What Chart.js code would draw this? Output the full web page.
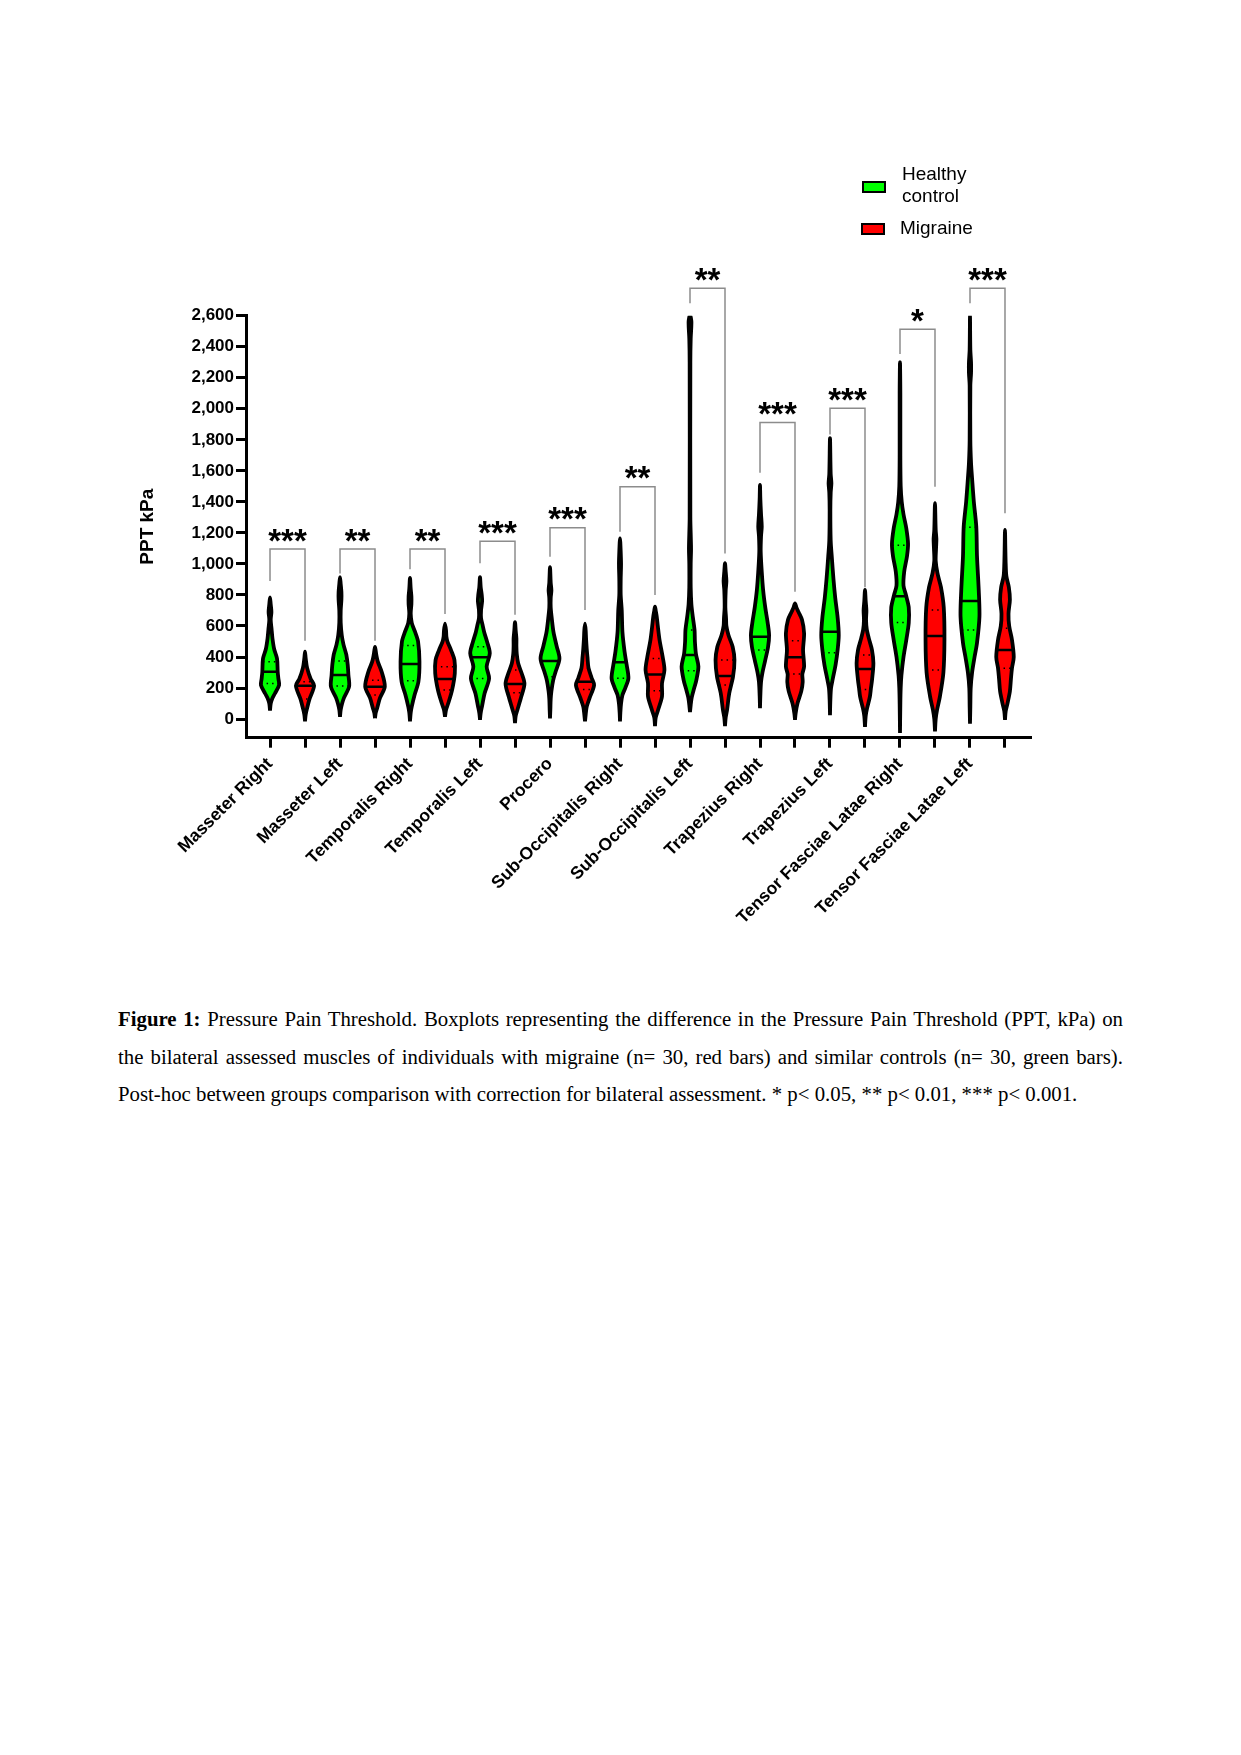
<!DOCTYPE html>
<html>
<head>
<meta charset="utf-8">
<script src="https://cdn.jsdelivr.net/npm/chart.js@4.4.1/dist/chart.umd.min.js"></script>
<style>
  html, body { margin: 0; padding: 0; background: #fff; }
  body { width: 1241px; height: 1755px; position: relative; overflow: hidden; font-family: 'Liberation Sans', Arial, sans-serif; }
  #chart { position: absolute; left: 0; top: 0; }
  .legend { position: absolute; font-size: 19px; line-height: 22px; color: #000; }
  .box { position: absolute; width: 24px; height: 12px; border: 2px solid #000; box-sizing: border-box; }
  .caption { position: absolute; left: 118px; top: 1000px; width: 1005px; font-family: 'Liberation Serif', 'Times New Roman', serif; font-size: 20.8px; line-height: 37.5px; color: #000; }
  .caption div { text-align: justify; text-align-last: justify; }
  .caption div.last { text-align-last: left; }
</style>
</head>
<body>
<canvas id="chart" width="1241" height="960"></canvas>

<div class="box" style="left:862px; top:181px; background:#00ff00;"></div>
<div class="legend" style="left:902px; top:163px;">Healthy<br>control</div>
<div class="box" style="left:861px; top:223px; background:#ff0000;"></div>
<div class="legend" style="left:900px; top:217px;">Migraine</div>

<div class="caption">
  <div><b>Figure 1:</b> Pressure Pain Threshold. Boxplots representing the difference in the Pressure Pain Threshold (PPT, kPa) on</div>
  <div>the bilateral assessed muscles of individuals with migraine (n= 30, red bars) and similar controls (n= 30, green bars).</div>
  <div class="last">Post-hoc between groups comparison with correction for bilateral assessment. * p&lt; 0.05, ** p&lt; 0.01, *** p&lt; 0.001.</div>
</div>

<script>
// ── Data ─────────────────────────────────────────────────────────
const muscles = ['Masseter Right', 'Masseter Left', 'Temporalis Right', 'Temporalis Left', 'Procero',
  'Sub-Occipitalis Right', 'Sub-Occipitalis Left', 'Trapezius Right', 'Trapezius Left',
  'Tensor Fasciae Latae Right', 'Tensor Fasciae Latae Left'];
const yTicks = [0, 200, 400, 600, 800, 1000, 1200, 1400, 1600, 1800, 2000, 2200, 2400, 2600];

const healthyMedian = [305, 284, 355, 398, 374, 366, 413, 531, 563, 791, 761];
const healthyQ1 = [230, 213, 247, 262, 273, 263, 312, 445, 428, 623, 574];
const healthyQ3 = [370, 374, 475, 466, null, null, 574, 1236, null, 1120, 1236];
const migraineMedian = [215, 209, 258, 226, 241, 288, 277, 398, 323, 535, 445];
const migraineQ1 = [130, 155, 187, 170, 191, 183, 219, 290, 191, 316, 327];
const migraineQ3 = [240, 250, 338, 316, 327, 391, 381, 505, 413, 703, 585];

// violin outlines: [kPa, half width in category units], bottom to top
const healthyShape = [
  [[55,0],[100,0.02],[130,0.06],[165,0.14],[220,0.26],[260,0.24],[305,0.22],[390,0.2],[450,0.12],[520,0.07],[580,0.045],[640,0.02],[690,0.04],[740,0.02],[785,0]],
  [[15,0],[60,0.02],[100,0.06],[135,0.11],[210,0.26],[285,0.24],[350,0.22],[415,0.18],[480,0.1],[540,0.05],[620,0.02],[700,0.02],[770,0.04],[820,0.04],[870,0.02],[915,0]],
  [[-15,0],[40,0.02],[80,0.05],[155,0.13],[240,0.24],[370,0.27],[500,0.23],[565,0.14],[620,0.05],[680,0.02],[740,0.04],[790,0.04],[840,0.02],[910,0]],
  [[-5,0],[40,0.02],[85,0.06],[165,0.13],[262,0.26],[338,0.19],[425,0.28],[500,0.2],[560,0.12],[610,0.07],[650,0.03],[700,0.03],[760,0.06],[800,0.05],[850,0.02],[915,0]],
  [[5,0],[60,0.01],[130,0.02],[180,0.04],[250,0.09],[305,0.16],[390,0.27],[470,0.19],[560,0.1],[650,0.05],[720,0.02],[780,0.02],[830,0.04],[880,0.02],[980,0]],
  [[-15,0],[40,0.01],[100,0.03],[155,0.07],[200,0.15],[262,0.24],[350,0.19],[435,0.13],[560,0.07],[700,0.05],[800,0.02],[900,0.02],[1000,0.03],[1080,0.02],[1165,0]],
  [[45,0],[90,0.02],[140,0.05],[200,0.12],[250,0.18],[338,0.24],[420,0.17],[500,0.14],[575,0.13],[660,0.08],[740,0.04],[850,0.02],[1000,0.02],[1100,0.03],[1300,0.01],[2300,0.01],[2450,0.02],[2560,0.04],[2605,0]],
  [[70,0],[150,0.01],[240,0.03],[300,0.07],[380,0.15],[465,0.23],[540,0.26],[620,0.22],[720,0.15],[830,0.09],[950,0.05],[1080,0.02],[1180,0.03],[1240,0.05],[1320,0.03],[1420,0.01],[1510,0]],
  [[25,0],[120,0.01],[200,0.03],[260,0.08],[350,0.16],[450,0.22],[540,0.25],[650,0.22],[780,0.15],[900,0.1],[1050,0.05],[1150,0.02],[1350,0.01],[1460,0.02],[1520,0.04],[1580,0.02],[1810,0]],
  [[-90,0],[100,0.01],[200,0.02],[280,0.04],[400,0.1],[510,0.18],[620,0.25],[720,0.25],[800,0.17],[860,0.1],[950,0.12],[1050,0.2],[1130,0.23],[1230,0.18],[1320,0.1],[1400,0.05],[1500,0.02],[1700,0.01],[2100,0.01],[2300,0]],
  [[-30,0],[80,0.01],[200,0.02],[300,0.06],[400,0.13],[490,0.2],[660,0.27],[830,0.25],[1050,0.2],[1240,0.18],[1400,0.11],[1550,0.06],[1650,0.03],[1800,0.01],[2150,0.01],[2230,0.03],[2300,0.03],[2380,0.01],[2605,0]]
];
const migraineShape = [
  [[-15,0],[30,0.02],[70,0.06],[130,0.13],[215,0.26],[260,0.16],[330,0.06],[390,0.02],[435,0]],
  [[5,0],[40,0.02],[70,0.06],[135,0.14],[210,0.28],[305,0.19],[370,0.08],[410,0.04],[440,0.02],[465,0]],
  [[15,0],[60,0.03],[100,0.09],[185,0.2],[295,0.28],[380,0.27],[440,0.18],[500,0.07],[530,0.04],[570,0.03],[615,0]],
  [[-25,0],[20,0.02],[60,0.07],[145,0.18],[228,0.27],[295,0.19],[360,0.09],[420,0.05],[470,0.04],[520,0.04],[570,0.02],[625,0]],
  [[-15,0],[30,0.02],[80,0.05],[135,0.13],[220,0.26],[265,0.19],[330,0.1],[400,0.07],[450,0.05],[520,0.03],[570,0.02],[615,0]],
  [[-45,0],[10,0.02],[60,0.09],[145,0.2],[230,0.2],[316,0.27],[400,0.22],[510,0.13],[600,0.08],[660,0.05],[700,0.02],[725,0]],
  [[-45,0],[10,0.02],[60,0.06],[165,0.12],[275,0.23],[380,0.27],[465,0.22],[540,0.1],[600,0.04],[650,0.03],[720,0.01],[830,0.02],[890,0.04],[950,0.02],[1005,0]],
  [[-5,0],[40,0.02],[100,0.07],[180,0.18],[240,0.22],[290,0.21],[338,0.26],[445,0.23],[553,0.26],[640,0.2],[690,0.1],[720,0.04],[746,0]],
  [[-50,0],[20,0.02],[70,0.06],[145,0.14],[200,0.17],[250,0.2],[360,0.24],[445,0.2],[520,0.11],[580,0.05],[640,0.03],[700,0.04],[760,0.02],[832,0]],
  [[-80,0],[0,0.02],[60,0.06],[145,0.14],[300,0.24],[510,0.27],[720,0.25],[850,0.17],[940,0.07],[1020,0.02],[1100,0.03],[1160,0.04],[1220,0.02],[1391,0]],
  [[-5,0],[50,0.02],[100,0.07],[180,0.14],[260,0.17],[330,0.2],[400,0.25],[510,0.2],[600,0.12],[680,0.1],[770,0.14],[850,0.11],[920,0.04],[1000,0.02],[1100,0.01],[1220,0]]
];

// significance brackets (kPa)
const bracketTop = [1096, 1096, 1096, 1146, 1233, 1498, 2777, 1911, 2003, 2512, 2777];
const bracketLeftEnd = [890, 939, 965, 1005, 1046, 1208, 2680, 1588, 1835, 2353, 2680];
const bracketRightEnd = [505, 505, 677, 672, 703, 800, 1068, 821, 849, 1498, 1326];
const bracketStars = ['***', '**', '**', '***', '***', '**', '**', '***', '***', '*', '***'];

// ── Build datasets ───────────────────────────────────────────────
const GREEN = '#00ff00';
const RED = '#ff0000';
const FONT = "'Liberation Sans', Arial, sans-serif";

function widthAt(shape, v) {
  for (let k = 1; k < shape.length; k++) {
    const [v0, w0] = shape[k - 1];
    const [v1, w1] = shape[k];
    if (v >= v0 && v <= v1) return w0 + (w1 - w0) * (v - v0) / (v1 - v0);
  }
  return 0;
}

function violinPoints(shape, pos) {
  const right = shape.map(([v, w]) => ({ x: pos + w, y: v }));
  const left = shape.slice(0, -1).reverse().map(([v, w]) => ({ x: pos - w, y: v }));
  return right.concat(left);
}

function crossLine(shape, pos, v, dashed) {
  const w = widthAt(shape, v);
  return {
    data: [{ x: pos - w, y: v }, { x: pos + w, y: v }],
    borderColor: '#000',
    borderWidth: dashed ? 1.5 : 2.5,
    borderDash: dashed ? [1.5, 4] : [],
    pointRadius: 0,
    fill: false,
    order: 1
  };
}

const datasets = [];
muscles.forEach((m, g) => {
  const groups = [
    { shape: healthyShape[g], med: healthyMedian[g], q1: healthyQ1[g], q3: healthyQ3[g], color: GREEN, pos: 2 * g },
    { shape: migraineShape[g], med: migraineMedian[g], q1: migraineQ1[g], q3: migraineQ3[g], color: RED, pos: 2 * g + 1 }
  ];
  groups.forEach(gr => {
    datasets.push({
      data: violinPoints(gr.shape, gr.pos),
      fill: 'shape',
      backgroundColor: gr.color,
      borderColor: '#000',
      borderWidth: 3.8,
      borderJoinStyle: 'round',
      tension: 0.3,
      pointRadius: 0,
      order: 2
    });
    datasets.push(crossLine(gr.shape, gr.pos, gr.med, false));
    if (gr.q1 != null) datasets.push(crossLine(gr.shape, gr.pos, gr.q1, true));
    if (gr.q3 != null) datasets.push(crossLine(gr.shape, gr.pos, gr.q3, true));
  });

  datasets.push({
    data: [
      { x: 2 * g, y: bracketLeftEnd[g] }, { x: 2 * g, y: bracketTop[g] },
      { x: 2 * g + 1, y: bracketTop[g] }, { x: 2 * g + 1, y: bracketRightEnd[g] }
    ],
    borderColor: '#8c8c8c',
    borderWidth: 1.5,
    pointRadius: 0,
    tension: 0,
    fill: false,
    clip: false,
    order: 0
  });
});

// ── Stars above brackets ─────────────────────────────────────────
const starPlugin = {
  id: 'stars',
  afterDatasetsDraw(chart) {
    const { ctx, scales: { x, y } } = chart;
    const size = 33;
    ctx.save();
    ctx.font = `bold ${size}px ${FONT}`;
    ctx.textAlign = 'center';
    ctx.textBaseline = 'alphabetic';
    ctx.fillStyle = '#000';
    bracketStars.forEach((s, g) => {
      const px = x.getPixelForValue(2 * g + 0.5);
      const py = y.getPixelForValue(bracketTop[g]) - 16;
      ctx.fillText(s, px, py + 0.56 * size);
    });
    ctx.restore();
  }
};

const tickFont = { family: FONT, size: 17.5, weight: 'bold' };

new Chart(document.getElementById('chart'), {
  type: 'line',
  data: { datasets },
  plugins: [starPlugin],
  options: {
    responsive: false,
    animation: false,
    events: [],
    layout: { padding: { top: 315.7, left: 132, right: 210, bottom: 0 } },
    plugins: { legend: { display: false }, tooltip: { enabled: false } },
    scales: {
      x: {
        type: 'linear',
        min: -0.686,
        max: 21.743,
        afterBuildTicks: axis => { axis.ticks = muscles.flatMap((m, g) => [{ value: 2 * g }, { value: 2 * g + 1 }]); },
        afterFit: axis => { axis.height = 222.3; },
        grid: { drawOnChartArea: false, tickLength: 10, tickWidth: 3, tickColor: '#000' },
        border: { width: 3, color: '#000' },
        ticks: {
          autoSkip: false,
          minRotation: 45,
          maxRotation: 45,
          padding: 6,
          color: '#000',
          font: tickFont,
          callback: (v, i) => (i % 2 === 0 ? muscles[i / 2] : '')
        }
      },
      y: {
        min: -120,
        max: 2600,
        afterBuildTicks: axis => { axis.ticks = yTicks.map(v => ({ value: v })); },
        afterFit: axis => { axis.width = 114; },
        grid: { drawOnChartArea: false, tickLength: 10, tickWidth: 3, tickColor: '#000' },
        border: { width: 3, color: '#000' },
        ticks: {
          padding: 2,
          color: '#000',
          font: { family: FONT, size: 17, weight: 'bold' },
          callback: v => v.toLocaleString('en-US')
        },
        title: {
          display: true,
          text: 'PPT kPa',
          color: '#000',
          font: { family: FONT, size: 19, weight: 'bold' },
          padding: { top: 4, bottom: 4 }
        }
      }
    }
  }
});
</script>
</body>
</html>
